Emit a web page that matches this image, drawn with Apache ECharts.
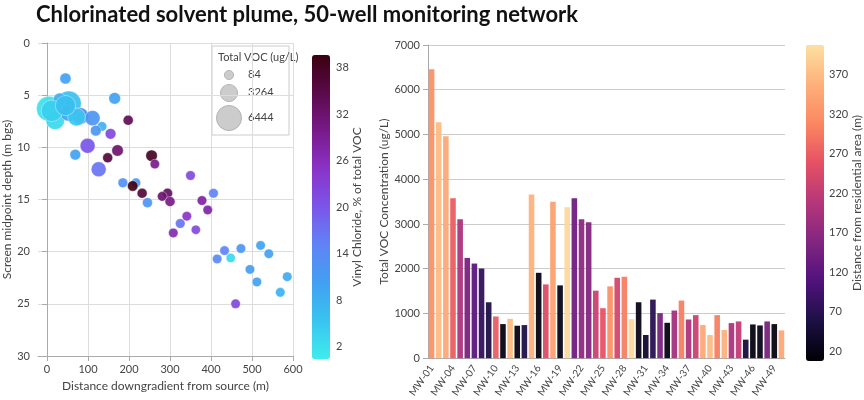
<!DOCTYPE html>
<html><head><meta charset="utf-8">
<script src="https://cdn.jsdelivr.net/npm/echarts@6/dist/echarts.min.js"></script>
<style>html,body{margin:0;padding:0;background:#fff}#c{width:864px;height:400px}</style>
</head><body><div id="c"></div>
<script>
// Scatter: distance (m), depth (m bgs), total VOC (ug/L), vinyl chloride %
const scDist=[5,53,20,31,53,81,111,45,165,198,134,119,155,99,172,69,148,255,263,126,350,185,217,209,232,294,281,300,245,406,378,392,341,325,363,308,433,473,521,541,415,448,495,512,586,569,460,72,12,45];
const scDepth=[6.3,5.8,7.4,5.4,6.7,7.0,7.2,3.4,5.3,7.4,8.0,8.4,8.7,9.85,10.3,10.7,11.0,10.8,11.6,12.1,12.7,13.4,13.4,13.7,14.4,14.4,14.7,15.2,15.3,14.4,15.1,16.0,16.6,17.3,17.9,18.2,19.9,19.7,19.4,20.2,20.7,20.6,21.7,22.9,22.4,23.9,25.0,7.1,6.5,6.0];
const scVOC=[6457,6400,3900,1500,3100,3100,2500,840,1100,450,250,700,700,2400,1000,700,400,1000,200,2400,250,300,200,600,400,400,250,400,400,250,250,200,200,250,100,200,200,200,200,200,200,100,200,200,200,200,200,3500,5000,4500];
const scVC=[2,6,3,8,10,14,12,10,10,34,8,12,22,20,32,10,36,38,30,17,22,13,12,39,36,33,32,30,12,15,28,28,25,17,22,27,15,12,10,10,14,3,11,10,9,8,22,5,4,6];
// Bars
const wells=[];for(let i=1;i<=50;i++)wells.push('MW-'+String(i).padStart(2,'0'));
const barVOC=[6457,5274,4963,3572,3107,2241,2115,2004,1250,932,762,880,725,740,3661,1908,1649,3499,1627,3373,3572,3107,3040,1509,1117,1605,1797,1820,873,1250,518,1309,1006,791,1065,1287,865,962,740,518,962,629,784,821,414,754,732,821,762,621];
const barDist=[320,370,350,270,200,150,120,80,60,270,20,370,20,60,360,20,250,340,25,400,140,170,160,230,260,320,240,300,400,25,40,70,150,20,190,300,200,230,350,370,300,360,200,220,50,20,25,150,20,350];
const vcTicks=[2,8,14,20,26,32,38];
const distTicks=[20,70,120,170,220,270,320,370];
const sizeLegend=[84,3264,6444];

const F='Lato, "Noto Sans", sans-serif', TC='#444';
const sz=v=>9+v*0.0025;
const coolColors=['#3fecec','#38c4f0','#42a0f2','#5f84f5','#7b55ea','#8a33c8','#7a1a8a','#5a0a4a','#3a0010'];
const magma=['#000004','#1c1044','#4f127b','#812581','#b5367a','#e55064','#fb8761','#fdb07a','#fde0a2'];
const g=[];
g.push({type:'text',left:36,top:4,style:{text:'Chlorinated solvent plume, 50-well monitoring network',font:'bold 22px '+F,fill:'#111'}});
// size legend box
g.push({type:'rect',shape:{x:212,y:46,width:77,height:89},style:{fill:'#fff',stroke:'#ccc',lineWidth:1}});
g.push({type:'text',x:218,y:52,style:{text:'Total VOC (ug/L)',font:'11px '+F,fill:TC}});
const ly=[75,93,118];
sizeLegend.forEach((v,i)=>{g.push({type:'circle',shape:{cx:229,cy:ly[i],r:sz(v)/2},style:{fill:'#ccc',stroke:'#aaa',lineWidth:0.8}});
 g.push({type:'text',x:248,y:ly[i]-6,style:{text:String(v),font:'11px '+F,fill:TC}});});
// colorbar ticks
vcTicks.forEach(v=>{const y=359-(v-0.5)/39.2*304;g.push({type:'text',x:336,y:y-6,style:{text:String(v),font:'11px '+F,fill:TC}});});
distTicks.forEach(v=>{const y=361-(v-8)/400*316;g.push({type:'text',x:829,y:y-6,style:{text:String(v),font:'11px '+F,fill:TC}});});
g.push({type:'text',x:357,y:207,rotation:Math.PI/2,style:{text:'Vinyl Chloride, % of total VOC',font:'12px '+F,fill:TC,align:'center',verticalAlign:'middle'}});
g.push({type:'text',x:857,y:203,rotation:Math.PI/2,style:{text:'Distance from residential area (m)',font:'12px '+F,fill:TC,align:'center',verticalAlign:'middle'}});

const chart=echarts.init(document.getElementById('c'));
chart.setOption({
 animation:false,textStyle:{fontFamily:F},
 graphic:g,
 grid:[{left:38,top:43,width:255,height:313},{left:428,top:45,width:357,height:316}],
 xAxis:[{type:'value',gridIndex:0,min:-22,max:600,name:'Distance downgradient from source (m)',nameLocation:'middle',nameGap:21,nameTextStyle:{color:TC,fontSize:12},
   axisLine:{show:true,onZero:false,lineStyle:{color:'#aaa'}},axisTick:{show:true,customValues:[0,100,200,300,400,500,600],lineStyle:{color:'#aaa'}},
   axisLabel:{customValues:[0,100,200,300,400,500,600],color:TC,fontSize:11},splitLine:{show:true,lineStyle:{color:'#ddd'}}},
  {type:'category',gridIndex:1,data:wells,axisLine:{lineStyle:{color:'#aaa'}},axisTick:{alignWithLabel:true,interval:2,lineStyle:{color:'#aaa'}},
   axisLabel:{interval:2,rotate:55,color:TC,fontSize:10}}],
 yAxis:[{type:'value',gridIndex:0,inverse:true,min:0,max:30,interval:5,name:'Screen midpoint depth (m bgs)',nameLocation:'middle',nameGap:24,nameTextStyle:{color:TC,fontSize:12},
   axisLine:{show:true,lineStyle:{color:'#aaa'}},axisTick:{show:true,lineStyle:{color:'#aaa'}},axisLabel:{color:TC,fontSize:11},splitLine:{lineStyle:{color:'#ddd'}}},
  {type:'value',gridIndex:1,min:0,max:7000,interval:1000,name:'Total VOC Concentration (ug/L)',nameLocation:'middle',nameGap:36,nameTextStyle:{color:TC,fontSize:12},
   axisLine:{show:true,lineStyle:{color:'#aaa'}},axisTick:{show:true,lineStyle:{color:'#aaa'}},axisLabel:{color:TC,fontSize:11,formatter:v=>String(v)},splitLine:{lineStyle:{color:'#ccc'}}}],
 visualMap:[{type:'continuous',seriesIndex:0,dimension:3,min:0.5,max:39.7,calculable:false,text:null,showLabel:false,left:312,top:55,itemWidth:18,itemHeight:304,padding:0,inRange:{color:coolColors}},
  {type:'continuous',seriesIndex:1,dimension:2,min:8,max:408,calculable:false,showLabel:false,left:806,top:45,itemWidth:18,itemHeight:316,padding:0,inRange:{color:magma}}],
 series:[{type:'scatter',xAxisIndex:0,yAxisIndex:0,data:scDist.map((d,i)=>[d,scDepth[i],scVOC[i],scVC[i]]),
   symbolSize:v=>sz(v[2]),itemStyle:{opacity:0.92,borderColor:'rgba(255,255,255,0.7)',borderWidth:0.6}},
  {type:'bar',xAxisIndex:1,yAxisIndex:1,barCategoryGap:'22%',data:barVOC.map((v,i)=>[i,v,barDist[i]]),encode:{x:0,y:1},itemStyle:{opacity:0.95}}]
});
</script></body></html>
